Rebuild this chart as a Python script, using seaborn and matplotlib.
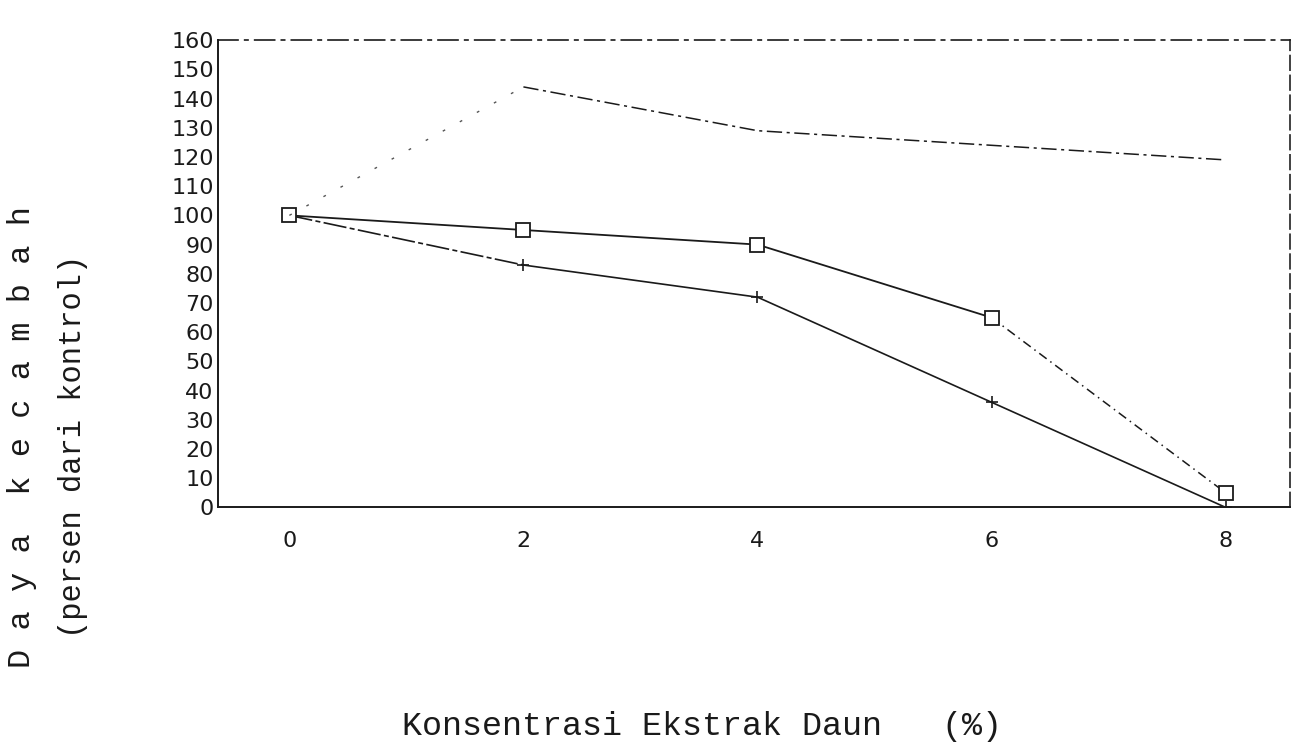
import matplotlib
matplotlib.use("Agg")
import matplotlib.pyplot as plt
import seaborn as sns

# Konsentrasi ekstrak daun (%)
konsentrasi = [0, 2, 4, 6, 8]
# Daya kecambah (persen dari kontrol)
seri_kotak = [100, 95, 90, 65, 5]
seri_plus = [100, 83, 72, 36, 0]
seri_atas = [100, 144, 129, 124, 119]

x_ticks = [0, 2, 4, 6, 8]
y_ticks = list(range(0, 161, 10))

sns.set_style("white")
plt.rcParams['font.family'] = ['DejaVu Sans']

fig = plt.figure(figsize=(13.09, 7.44), dpi=100)
ax = fig.add_axes([0.1665, 0.318, 0.819, 0.628])

ink = "#1a1a1a"

# plus series (first segment broken, rest solid)
sns.lineplot(x=konsentrasi[:2], y=seri_plus[:2], ax=ax, color=ink, lw=1.2,
             linestyle=(0, (14, 2, 3, 2)))
sns.lineplot(x=konsentrasi[1:], y=seri_plus[1:], ax=ax, color=ink, lw=1.2,
             marker="+", markersize=9, markeredgewidth=1.2, markeredgecolor=ink)

# square series: solid up to 6 %, dash-dot to 8 %
sns.lineplot(x=konsentrasi[3:], y=seri_kotak[3:], ax=ax, color=ink, lw=1.1,
             linestyle=(0, (6, 3, 1, 3)))
sns.lineplot(x=konsentrasi[:4], y=seri_kotak[:4], ax=ax, color=ink, lw=1.3,
             marker="s", markersize=10.5, markerfacecolor="white",
             markeredgecolor=ink, markeredgewidth=1.3)
sns.lineplot(x=konsentrasi[4:], y=seri_kotak[4:], ax=ax, color=ink, lw=0,
             marker="s", markersize=10.5, markerfacecolor="white",
             markeredgecolor=ink, markeredgewidth=1.3)

# upper series: sparse dots 0-2 %, dash-dot afterwards
sns.lineplot(x=konsentrasi[:2], y=seri_atas[:2], ax=ax, color="#555555", lw=1.0,
             linestyle=(0, (2, 12)))
sns.lineplot(x=konsentrasi[1:], y=seri_atas[1:], ax=ax, color=ink, lw=1.1,
             linestyle=(0, (10, 3, 2, 3)))

ax.set_xlim(-0.61, 8.55)
ax.set_ylim(0, 160)
ax.set_xticks(x_ticks)
ax.set_yticks(y_ticks)
ax.tick_params(axis="both", direction="in", length=6, width=1.2, colors=ink,
               labelsize=16)
ax.tick_params(axis="x", pad=17)
ax.tick_params(axis="y", pad=3)

for side in ["left", "bottom"]:
    ax.spines[side].set_color(ink)
    ax.spines[side].set_linewidth(1.4)
ax.spines["top"].set_color(ink)
ax.spines["top"].set_linewidth(1.2)
ax.spines["top"].set_linestyle((0, (12, 4, 2, 4)))
ax.spines["right"].set_color("#333333")
ax.spines["right"].set_linewidth(1.3)
ax.spines["right"].set_linestyle((0, (8, 3)))
ax.set_xlabel("")
ax.set_ylabel("")

mono = ["Liberation Mono", "DejaVu Sans Mono"]
fig.text(0.536, 0.024, "Konsentrasi Ekstrak Daun   (%)", ha="center", va="center",
         fontsize=24, family=mono, color=ink)
fig.text(0.017, 0.412, "D a y a  k e c a m b a h", ha="center", va="center",
         rotation=90, fontsize=23, family=mono, color=ink)
fig.text(0.056, 0.40, "(persen dari kontrol)", ha="center", va="center",
         rotation=90, fontsize=22, family=mono, color=ink)

fig.savefig("out.png", dpi=100)
